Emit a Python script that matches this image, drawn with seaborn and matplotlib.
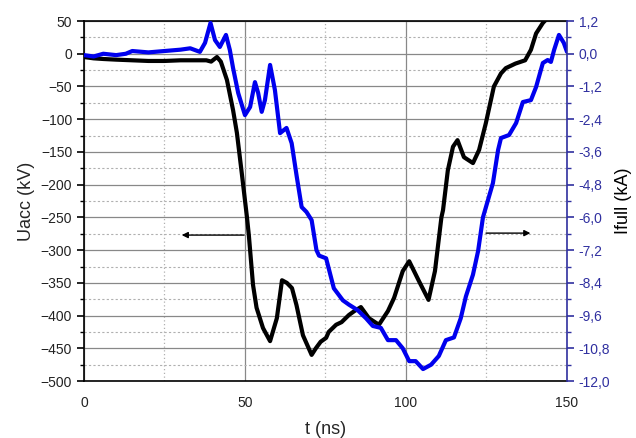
import matplotlib
matplotlib.use("Agg")
import matplotlib.pyplot as plt
import seaborn as sns
import pandas as pd
from matplotlib.ticker import MultipleLocator, FuncFormatter

# Uacc trace (black), t in ns, U in kV
t_u = [0, 3, 6, 10, 15, 20, 25, 30, 35, 38, 39.5, 41.3, 42.5, 44.4, 46.3, 47.5, 49, 50.6,
       51.2, 52.5, 53.6, 55.6, 57.8, 59.9, 61.5, 63, 64.6, 66, 68, 70.7, 72, 73.5, 75.2, 76,
       78.3, 80, 82.3, 84, 86, 88.5, 91.6, 94.4, 96.3, 99, 101, 104, 107, 109, 111, 111.5,
       113, 114.6, 116, 118, 120.8, 122.7, 124.8, 127.3, 129.5, 131, 134, 137, 138.8, 140.4,
       142.5, 144]
u_kv = [-5, -7, -8, -9, -10, -11, -11, -10, -10, -10, -12, -5, -12, -40, -86, -121, -182, -249,
        -277, -353, -388, -419, -439, -404, -346, -350, -358, -384, -430, -460, -450, -440, -434, -425,
        -414, -410, -399, -393, -387, -404, -414, -393, -373, -332, -317, -347, -376, -332, -250, -239,
        -178, -142, -132, -158, -167, -147, -106, -50, -30, -22, -15, -10, 6, 31,
        47, 55]

# Ifull trace (blue), t in ns, I in kA
t_i = [0, 3, 6, 10, 13, 15, 20, 25, 30, 33, 36, 37.6, 39.3, 40.7, 42.2, 44.1, 45.3, 46.3,
       47.9, 50, 51.6, 53.1, 54.1, 55.2, 56.2, 57.8, 59.3, 60.9, 62.9, 64.5, 66.1, 67.6, 69.1,
       70.7, 72.2, 73, 75.2, 77.6, 80.4, 82.3, 85, 87.6, 89.7, 92.2, 94.4, 96.9, 99, 101, 103,
       105.3, 107.8, 110.2, 112.4, 114.9, 117, 118.6, 120.8, 122.4, 123.9, 127, 128.6, 129.5,
       132, 134.2, 136.3, 138.8, 140.4, 142.5, 144, 145, 146, 147.5, 149, 150]
i_ka = [-0.05, -0.1, 0.0, -0.05, 0.0, 0.1, 0.05, 0.1, 0.15, 0.2, 0.07, 0.4, 1.13, 0.5, 0.25, 0.69, 0.14, -0.52,
        -1.44, -2.25, -1.95, -1.04, -1.44, -2.13, -1.7, -0.41, -1.33, -2.91, -2.72, -3.28, -4.52, -5.62, -5.8,
        -6.1, -7.2, -7.4, -7.5, -8.6, -9.04, -9.2, -9.4, -9.7, -9.98, -10.05, -10.5, -10.5, -10.8, -11.27, -11.27,
        -11.56, -11.4, -11.08, -10.5, -10.4, -9.7, -8.9, -8.1, -7.23, -6.0, -4.74, -3.53, -3.09,
        -2.98, -2.54, -1.77, -1.7, -1.22, -0.34, -0.23, -0.3, 0.14, 0.69, 0.4, 0.07]

df_u = pd.DataFrame({"t": t_u, "U": u_kv})
df_i = pd.DataFrame({"t": t_i, "I": i_ka})

sns.set_theme(style="white")
plt.rcParams["font.family"] = ["Liberation Sans", "DejaVu Sans"]

fig = plt.figure(figsize=(6.36, 4.38), dpi=100)
ax = fig.add_axes([0.132, 0.130, 0.7595, 0.822])
ax2 = ax.twinx()

blue = "#0000ee"
axis_blue = "#3030a0"

sns.lineplot(data=df_u, x="t", y="U", ax=ax, color="black", linewidth=3.0, estimator=None, sort=False)
sns.lineplot(data=df_i, x="t", y="I", ax=ax2, color=blue, linewidth=3.0, estimator=None, sort=False)

ax.set_xlim(0, 150)
ax.set_ylim(-500, 50)
ax2.set_ylim(-12.0, 1.2)

ax.xaxis.set_major_locator(MultipleLocator(50))
ax.xaxis.set_minor_locator(MultipleLocator(25))
ax.yaxis.set_major_locator(MultipleLocator(50))
ax.yaxis.set_minor_locator(MultipleLocator(25))
ax2.yaxis.set_major_locator(MultipleLocator(1.2))
ax2.yaxis.set_minor_locator(MultipleLocator(0.6))
ax2.yaxis.set_major_formatter(FuncFormatter(lambda v, p: f"{v:.1f}".replace(".", ",").replace("-0,0", "0,0")))

ax.grid(True, which="major", axis="y", color="#888888", linewidth=0.9, linestyle="-")
ax.grid(True, which="minor", axis="y", color="#b0b0b0", linewidth=0.8, linestyle=(0, (2, 2)))
ax.grid(True, which="major", axis="x", color="#888888", linewidth=0.9, linestyle="-")
ax.grid(True, which="minor", axis="x", color="#b0b0b0", linewidth=0.9, linestyle=(0, (1, 2)))
ax.set_axisbelow(True)

ax.tick_params(axis="both", which="major", direction="out", length=5, width=1.2,
               labelsize=10, colors="black", labelcolor="#222222")
ax.tick_params(axis="both", which="minor", direction="out", length=3, width=1.0, colors="black")
ax.tick_params(axis="x", pad=6)
ax2.tick_params(axis="y", which="major", direction="out", length=5, width=1.2,
                labelsize=10, colors=axis_blue, labelcolor=axis_blue)
ax2.tick_params(axis="y", which="minor", direction="out", length=3, width=1.0, colors=axis_blue)

for s in ["left", "top", "bottom"]:
    ax.spines[s].set_color("black")
    ax.spines[s].set_linewidth(1.2)
ax.spines["right"].set_visible(False)
for s in ["left", "top", "bottom"]:
    ax2.spines[s].set_visible(False)
ax2.spines["right"].set_color(axis_blue)
ax2.spines["right"].set_linewidth(1.2)

ax.set_xlabel("t (ns)", fontsize=13, labelpad=8)
ax.set_ylabel("Uacc (kV)", fontsize=13, labelpad=4)
ax2.set_ylabel("Ifull (kA)", fontsize=13, labelpad=3, color="black")

# direction arrows
ax.annotate("", xy=(29.5, -277), xytext=(50.6, -277),
            arrowprops=dict(arrowstyle="-|>", color="black", lw=1.0, mutation_scale=9))
ax.annotate("", xy=(139.5, -274), xytext=(124, -274),
            arrowprops=dict(arrowstyle="-|>", color="black", lw=1.0, mutation_scale=9))

fig.savefig("out.png", dpi=100)
